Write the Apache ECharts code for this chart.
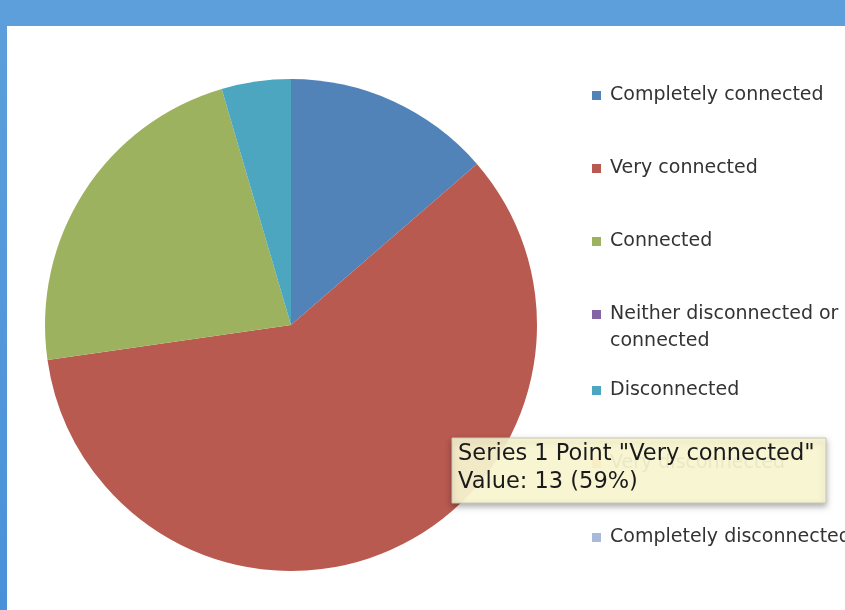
<!DOCTYPE html>
<html>
<head>
<meta charset="utf-8">
<script src="https://cdn.jsdelivr.net/npm/echarts@6/dist/echarts.min.js"></script>
<style>
html,body{margin:0;padding:0;background:#fff;}
#c{width:845px;height:610px;}
</style>
</head>
<body>
<div id="c"></div>
<script>
const categories = ["Completely connected","Very connected","Connected","Neither disconnected or connected","Disconnected","Very disconnected","Completely disconnected"];
const values = [3, 13, 5, 0, 1, 0, 0];
const colors = ["#5183B9","#B95A50","#9CB25E","#8466A4","#4DA6BF","#F79646","#A8B9DA"];
const seriesName = "Series 1";
const tipIndex = 1;
const legendTops = [94, 167, 240, 313, 389, 462, 536];

const total = values.reduce((a,b)=>a+b,0);
const chart = echarts.init(document.getElementById('c'));

const legends = categories.map((name,i)=>({
  data:[name],
  orient:'vertical',
  left:592,
  top:legendTops[i]-8,
  padding:0,
  itemWidth:9,
  itemHeight:9,
  itemGap:0,
  selectedMode:false,
  icon:'rect',
  formatter: n => n === "Neither disconnected or connected" ? "Neither disconnected or" : n,
  textStyle:{fontFamily:'DejaVu Sans',fontSize:19,color:'#333',padding:[0,0,0,4]}
}));

const tipText1 = seriesName + ' Point "' + categories[tipIndex] + '"';
const tipText2 = 'Value: ' + values[tipIndex] + ' (' + Math.round(values[tipIndex]/total*100) + '%)';

chart.setOption({
  animation:false,
  backgroundColor:'#ffffff',
  color:colors,
  legend:legends,
  graphic:[
    {type:'rect',shape:{x:0,y:0,width:845,height:26},style:{fill:'#5C9FDB'},z:10},
    {type:'rect',shape:{x:0,y:0,width:7,height:610},
      style:{fill:new echarts.graphic.LinearGradient(0,0,0,1,[{offset:0,color:'#5C9FDB'},{offset:1,color:'#4A91D9'}])},z:10},
    {type:'text',left:610,top:332,style:{text:'connected',fontFamily:'DejaVu Sans',fontSize:19,fill:'#333'}},
    {type:'rect',shape:{x:452,y:438,width:374,height:65},
      style:{fill:'rgba(255,253,214,0.9)',stroke:'#c8c8b4',lineWidth:1,shadowBlur:6,shadowOffsetY:3,shadowColor:'rgba(0,0,0,0.35)'},z:20},
    {type:'text',left:458,top:443,z:21,style:{text:tipText1,fontFamily:'DejaVu Sans',fontSize:22.5,fill:'#1a1a1a'}},
    {type:'text',left:458,top:471,z:21,style:{text:tipText2,fontFamily:'DejaVu Sans',fontSize:22.5,fill:'#1a1a1a'}}
  ],
  series:[{
    type:'pie',
    name:seriesName,
    center:[291,325],
    radius:[0,246],
    startAngle:90,
    clockwise:true,
    label:{show:false},
    labelLine:{show:false},
    itemStyle:{borderWidth:0},
    emphasis:{disabled:true},
    data:categories.map((n,i)=>({name:n,value:values[i]}))
  }]
});
</script>
</body>
</html>
